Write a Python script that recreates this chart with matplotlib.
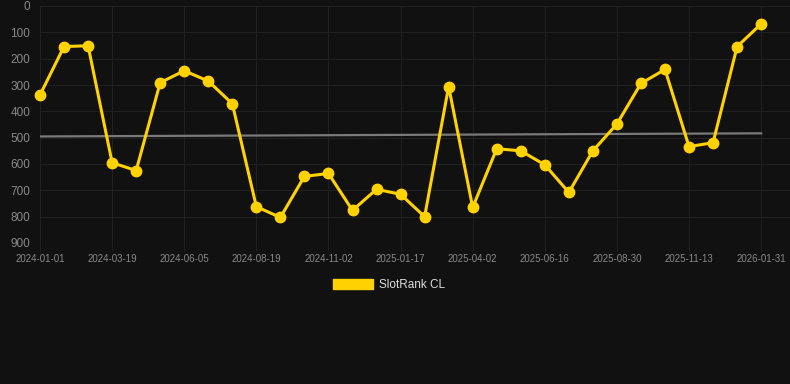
import matplotlib.pyplot as plt
import numpy as np

# rank values (lower is better), one per period
ranks = [338, 154, 151, 595, 625, 291, 246, 285, 371, 762, 803, 647, 636, 776, 696, 715,
         800, 306, 765, 542, 550, 603, 708, 550, 448, 294, 241, 534, 519, 154, 68]
tick_labels = ['2024-01-01', '2024-03-19', '2024-06-05', '2024-08-19', '2024-11-02', '2025-01-17',
               '2025-04-02', '2025-06-16', '2025-08-30', '2025-11-13', '2026-01-31']
series_name = 'SlotRank CL'


def main():
    plt.rcParams['font.family'] = ['Liberation Sans', 'DejaVu Sans']
    bg = '#111111'
    fig = plt.figure(figsize=(7.9, 3.84), dpi=100, facecolor=bg)
    ax = fig.add_axes([40/790, 1-243/384, 750/790, 237/384])
    ax.set_facecolor(bg)

    x = np.arange(len(ranks))
    y = np.array(ranks)

    # trend line
    k, b = np.polyfit(x, y, 1)
    ax.plot([x[0], x[-1]], [k*x[0]+b, k*x[-1]+b], color='#7a7a7a', lw=1.6, zorder=2)

    ax.plot(x, y, color='#FFD200', lw=2.2, marker='o', ms=7.5, zorder=3,
            label=series_name, clip_on=False)

    ax.set_xlim(0, 31.2)
    ax.set_ylim(900, 0)
    ax.set_yticks(np.arange(0, 901, 100))
    ax.set_xticks(x[::3])
    ax.set_xticklabels(tick_labels)

    ax.grid(True, color='#202020', lw=0.8)
    ax.set_axisbelow(True)
    for s in ax.spines.values():
        s.set_visible(False)
    ax.tick_params(axis='y', length=0, pad=7, labelsize=8.5, labelcolor='#888888')
    ax.tick_params(axis='x', length=6, color='#202020', pad=2, labelsize=7, labelcolor='#888888')

    h = [plt.Rectangle((0, 0), 1, 1, color='#FFD200')]
    fig.legend(h, [series_name], loc='center', bbox_to_anchor=(389/790, 1-285/384),
               frameon=False, fontsize=8.5, labelcolor='#dddddd',
               handlelength=3.4, handleheight=1.0, handletextpad=0.5)

    fig.savefig('out.png', facecolor=bg)


if __name__ == '__main__':
    main()
